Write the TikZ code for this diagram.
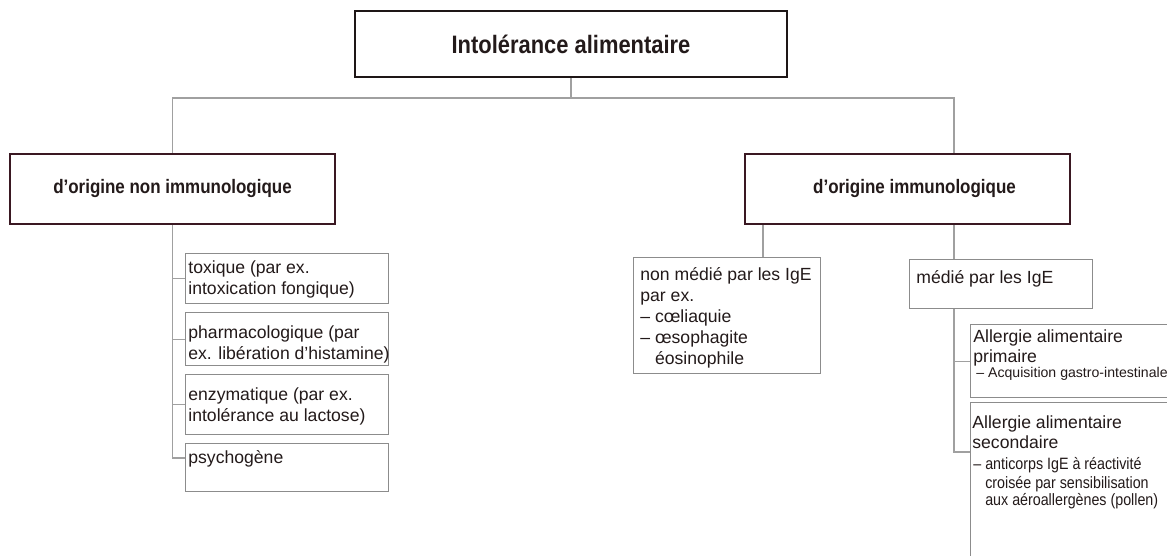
\documentclass[tikz,border=0pt]{standalone}
\usepackage{fontspec}
\setmainfont{Liberation Sans}
\newfontfamily\condreg{Liberation Sans}[FakeStretch=0.87]
\newfontfamily\condbold{Liberation Sans Bold}[FakeStretch=0.87]
\usetikzlibrary{calc}
\definecolor{txt}{HTML}{231A1A}
\definecolor{framec}{HTML}{1E1616}
\definecolor{maroonc}{HTML}{3A1822}
\definecolor{connc}{HTML}{A0A0A0}
\definecolor{boxgray}{HTML}{8C8C8C}
\tikzset{
  conn/.style={draw=connc, line width=0.6pt},
  titlebox/.style={draw=framec, line width=1.4pt, fill=white, text=txt,
    font=\condbold\fontsize{12.6pt}{15pt}\selectfont},
  headbox/.style={draw=maroonc, line width=1.4pt, text=txt,
    font=\condbold\fontsize{9.75pt}{11pt}\selectfont},
  smallbox/.style={draw=boxgray, line width=0.7pt, anchor=north west, inner sep=0pt},
  body/.style={anchor=north west, inner sep=0pt, align=left, text=txt,
    font=\fontsize{8.8pt}{10.5pt}\selectfont}
}
\begin{document}
\begin{tikzpicture}[x=0.5pt, y=-0.5pt]
\useasboundingbox (0,0) rectangle (1167,556);
\fill[white] (0,0) rectangle (1167,556);

\coordinate (hy) at (0,98);
\coordinate (xa) at (763,0);
\coordinate (xb) at (954,0);

% main boxes
\node[titlebox, minimum width=216pt, minimum height=33pt] (title) at (571,44) {Intolérance alimentaire};
\node[headbox, minimum width=162.5pt, minimum height=35pt] (lsub) at (172.5,189) {d’origine non immunologique};
\node[headbox, minimum width=162.5pt, minimum height=35pt] (rsub) at (907.5,189) {\kern7pt d’origine immunologique};

% small boxes
\node[smallbox, minimum width=101.5pt, minimum height=25pt] (b1) at (185,253) {};
\node[smallbox, minimum width=101.5pt, minimum height=26.5pt] (b2) at (185,312) {};
\node[smallbox, minimum width=101.5pt, minimum height=30pt] (b3) at (185,374) {};
\node[smallbox, minimum width=101.5pt, minimum height=24pt] (b4) at (185,443) {};
\node[smallbox, minimum width=93.5pt, minimum height=58pt] (nm) at (633,257) {};
\node[smallbox, minimum width=91.5pt, minimum height=24.5pt] (md) at (909,259) {};
\node[smallbox, minimum width=110pt, minimum height=36.5pt] (pr) at (970,324) {};
\node[smallbox, minimum width=110pt, minimum height=90pt] (se) at (970,402) {};

% texts
\node[body] (b1t) at (188,258) {\strut toxique (par ex.\\intoxication fongique)};
\node[body] (b2t) at (188,323) {\strut pharmacologique (par\\ex. libération d’histamine)};
\node[body] (b3t) at (188,385) {\strut enzymatique (par ex.\\intolérance au lactose)};
\node[body] (b4t) at (188,448) {\strut psychogène};
\node[body] (nmt) at (640,265) {\strut non médié par les IgE\\par ex.\\– cœliaquie\\– œsophagite\\\hphantom{– }éosinophile};
\node[body] (mdt) at (916,268) {\strut médié par les IgE};
\node[body, font=\fontsize{8.8pt}{9pt}\selectfont] (prt) at (973,329) {\strut Allergie alimentaire\\primaire};
\node[anchor=base west, inner sep=0pt, text=txt, font=\fontsize{7.05pt}{8.5pt}\selectfont] (prd) at (976,377) {– Acquisition gastro-intestinale};
\node[body, font=\fontsize{8.8pt}{10pt}\selectfont] (set) at (972,413.6) {\strut Allergie alimentaire\\secondaire};
\node[body, font=\condreg\fontsize{8.2pt}{8.5pt}\selectfont] (sed) at (973,457) {\strut – anticorps IgE à réactivité\\\hphantom{– }croisée par sensibilisation\\\hphantom{– }aux aéroallergènes (pollen)};

% connectors
\draw[conn] (title.south) -- (title.south |- hy);
\draw[conn] (lsub.north) -- (lsub.north |- hy) -- (xb |- hy) -- (xb |- rsub.north);
\draw[conn] ($(b4.north west)+(0,15)$) -| (lsub.south);
\draw[conn] (b1.west) -| (lsub.south);
\draw[conn] (b2.west) -| (lsub.south);
\draw[conn] (b3.west) -| (lsub.south);
\draw[conn] (rsub.south -| xa) -- (nm.north -| xa);
\draw[conn] (rsub.south -| xb) -- (md.north -| xb);
\draw[conn] ($(se.north west)+(0,50)$) -| (md.south -| xb);
\draw[conn] (pr.west) -| (md.south -| xb);
\end{tikzpicture}
\end{document}
